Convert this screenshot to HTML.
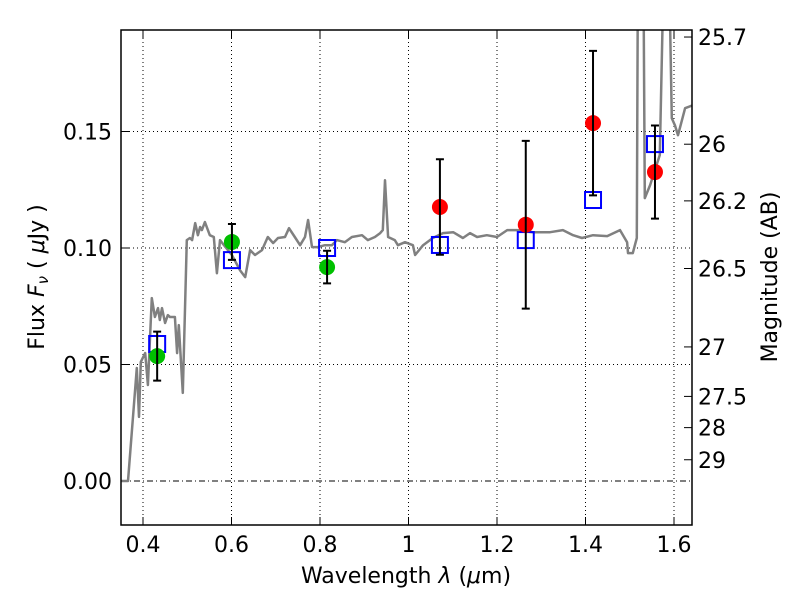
<!DOCTYPE html>
<html><head><meta charset="utf-8"><style>
html,body{margin:0;padding:0;background:#fff;}
svg text{font-family:"DejaVu Sans","Liberation Sans",sans-serif;}
</style></head><body>
<svg id="chart" width="800" height="600" xmlns="http://www.w3.org/2000/svg"></svg>
<script>
const spectrumLambda=[0.35,0.366,0.386,0.391,0.395,0.405,0.411,0.420,0.427,0.434,0.438,0.443,0.450,0.456,0.461,0.472,0.477,0.481,0.490,0.499,0.506,0.511,0.518,0.524,0.529,0.533,0.540,0.551,0.560,0.567,0.574,0.583,0.601,0.619,0.631,0.642,0.653,0.669,0.682,0.694,0.705,0.721,0.730,0.743,0.755,0.766,0.773,0.782,0.795,0.811,0.827,0.838,0.856,0.872,0.895,0.908,0.924,0.936,0.942,0.947,0.954,0.969,0.976,0.992,1.010,1.015,1.033,1.055,1.078,1.101,1.123,1.139,1.155,1.177,1.200,1.223,1.245,1.281,1.320,1.349,1.372,1.392,1.417,1.449,1.478,1.494,1.496,1.507,1.516,1.519,1.530,1.534,1.546,1.568,1.580,1.586,1.595,1.602,1.609,1.625,1.643];
const spectrumFlux=[0,0,0.0485,0.0275,0.0511,0.0549,0.0412,0.0785,0.0704,0.0742,0.0691,0.0742,0.0678,0.0712,0.0704,0.0704,0.0549,0.0669,0.0378,0.1034,0.1043,0.1034,0.1107,0.1055,0.1090,0.1077,0.1111,0.1055,0.1047,0.0892,0.1034,0.1012,0.0970,0.0905,0.0875,0.0991,0.0970,0.0991,0.1047,0.1021,0.1043,0.1047,0.1085,0.1047,0.1012,0.1047,0.1120,0.1004,0.1004,0.1012,0.1012,0.1034,0.1025,0.1047,0.1055,0.1034,0.1047,0.1064,0.1077,0.1291,0.1047,0.1034,0.1012,0.1025,0.1012,0.0970,0.1012,0.1043,0.1064,0.1068,0.1043,0.1064,0.1047,0.1055,0.1047,0.1077,0.1077,0.1068,0.1068,0.1077,0.1055,0.1043,0.1055,0.1051,0.1077,0.1025,0.0978,0.0978,0.1043,0.25,0.25,0.1214,0.1270,0.1399,0.25,0.25,0.1557,0.1527,0.1484,0.1600,0.1613];
const greenLambda=[0.432,0.601,0.816];
const greenFlux=[0.0536,0.1026,0.0918];
const greenErr=[0.0105,0.0077,0.007];
const redLambda=[1.071,1.265,1.417,1.557];
const redFlux=[0.1176,0.110,0.1536,0.1326];
const redErr=[0.0205,0.036,0.031,0.020];
const boxLambda=[0.432,0.601,0.816,1.071,1.265,1.417,1.557];
const boxFlux=[0.0588,0.0948,0.100,0.1013,0.1034,0.1206,0.1446];
const xTicks=[0.4,0.6,0.8,1.0,1.2,1.4,1.6];
const xTickLabels=["0.4","0.6","0.8","1","1.2","1.4","1.6"];
const yTicks=[0,0.05,0.10,0.15];
const yTickLabels=["0.00","0.05","0.10","0.15"];
const magTicks=[25.7,26,26.2,26.5,27,27.5,28,29];
const magTickLabels=["25.7","26","26.2","26.5","27","27.5","28","29"];

const L=121,R=692,T=30,B=525;
const X=l=>143+(l-0.4)*442.5;
const Y=f=>481-f*2330;
const magToFlux=m=>Math.pow(10,(23.9-m)/2.5);
const NS="http://www.w3.org/2000/svg";
const svg=document.getElementById('chart');
function mk(tag,attrs,parent){const e=document.createElementNS(NS,tag);for(const k in attrs)e.setAttribute(k,attrs[k]);(parent||svg).appendChild(e);return e;}

const defs=mk('defs',{});
const cp=mk('clipPath',{id:'plotclip'},defs);
mk('rect',{x:L,y:T,width:R-L,height:B-T},cp);

const FS=22;
xTicks.forEach((t,i)=>{
  const g=mk('line',{x1:X(t),x2:X(t),y1:T,y2:B,stroke:'#000','stroke-width':1,'stroke-dasharray':'1,3'});
  
  
  mk('line',{x1:X(t),x2:X(t),y1:B,y2:B-8,stroke:'#000','stroke-width':1});
  mk('line',{x1:X(t),x2:X(t),y1:T,y2:T+8,stroke:'#000','stroke-width':1});
  const tx=mk('text',{x:X(t),y:B+27,'font-size':FS,'text-anchor':'middle'});
  tx.textContent=xTickLabels[i];
  
  
});
yTicks.forEach((t,i)=>{
  const g=mk('line',{x1:L,x2:R,y1:Y(t),y2:Y(t),stroke:'#000','stroke-width':1,'stroke-dasharray':t===0?'6,3,1,3':'1,3'});
  
  
  mk('line',{x1:L,x2:L+8,y1:Y(t),y2:Y(t),stroke:'#000','stroke-width':1});
  const tx=mk('text',{x:112,y:Y(t)+8,'font-size':FS,'text-anchor':'end'});
  tx.textContent=yTickLabels[i];
  
  
});
magTicks.forEach((m,i)=>{
  const y=Y(magToFlux(m));
  mk('line',{x1:R-8,x2:R,y1:y,y2:y,stroke:'#000','stroke-width':1});
  const tx=mk('text',{x:698,y:y+8,'font-size':FS,'text-anchor':'start'});
  tx.textContent=magTickLabels[i];
  
  
});

const plot=mk('g',{'clip-path':'url(#plotclip)'});
let d='';
spectrumLambda.forEach((l,i)=>{d+=(i?'L':'M')+X(l).toFixed(1)+','+Y(spectrumFlux[i]).toFixed(1);});
const sp=mk('path',{d:d,fill:'none',stroke:'#808080','stroke-width':2.5,'stroke-linejoin':'round'},plot);



boxLambda.forEach((l,i)=>{
  const b=mk('rect',{x:X(l)-8,y:Y(boxFlux[i])-8,width:16,height:16,fill:'none',stroke:'#0000ff','stroke-width':2},plot);
  
  
});
function pts(ls,fs,es,color,name){
  ls.forEach((l,i)=>{
    const x=X(l),y1=Y(fs[i]+es[i]),y2=Y(fs[i]-es[i]);
    const c=mk('circle',{cx:x,cy:Y(fs[i]),r:8,fill:color},plot);
    
    
    const e=mk('path',{d:`M${x},${y1}L${x},${y2}M${x-4},${y1}L${x+4},${y1}M${x-4},${y2}L${x+4},${y2}`,stroke:'#000','stroke-width':2,fill:'none'},plot);
    
    
  });
}
pts(greenLambda,greenFlux,greenErr,'#00c000','green-photometry-point');
pts(redLambda,redFlux,redErr,'#ff0000','red-photometry-point');

const fr=mk('rect',{x:L,y:T,width:R-L,height:B-T,fill:'none',stroke:'#000','stroke-width':1.5});



const xl=mk('text',{x:406,y:583,'font-size':FS,'text-anchor':'middle'});
xl.innerHTML='Wavelength  <tspan font-style="italic">λ</tspan> (<tspan font-style="italic">μ</tspan>m)';
xl.setAttribute('xml:space','preserve');


const yl=mk('text',{x:0,y:0,'font-size':FS,'text-anchor':'middle',transform:'translate(44,277) rotate(-90)'});
yl.innerHTML='Flux  <tspan font-style="italic">F</tspan><tspan font-style="italic" font-size="15" dy="4">ν</tspan><tspan dy="-4">  (  </tspan><tspan font-style="italic">μ</tspan>Jy )';


const rl=mk('text',{x:0,y:0,'font-size':FS,'text-anchor':'middle',transform:'translate(777,277) rotate(-90)'});
rl.textContent='Magnitude (AB)';


</script>
</body></html>
